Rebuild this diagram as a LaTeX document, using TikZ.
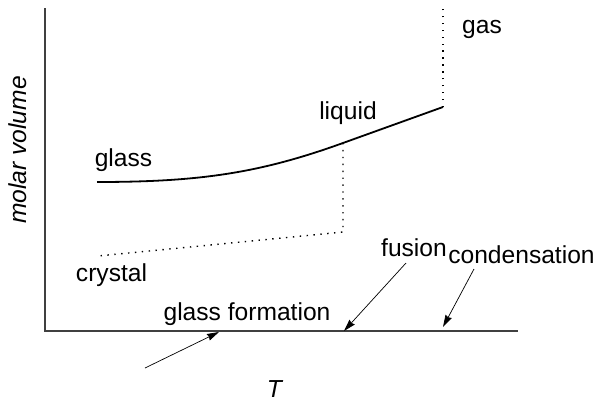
\documentclass[tikz,border=0pt]{standalone}
\usepackage{fontspec}
\setmainfont{Liberation Sans}
\usetikzlibrary{arrows.meta}
\begin{document}
\begin{tikzpicture}[x=1pt,y=-1pt,
  lbl/.style={anchor=base,inner sep=0pt,font=\fontsize{24.6}{28}\selectfont},
  axisline/.style={line width=1.2pt,black!75},
  curve/.style={line width=1.8pt,black},
  dotline/.style={line width=1.4pt,dash pattern=on 1.4pt off 5.5pt},
  ptr/.style={line width=0.7pt,-{Stealth[length=12pt,width=7pt,inset=1pt]}}]
\useasboundingbox (0,0) rectangle (597,402);
% axes
\coordinate (top) at (45,8);
\coordinate (org) at (45,331);
\coordinate (xend) at (518,331);
\draw[axisline] (top) -- (org) -- (xend);
% curves
\coordinate (g0) at (97,182);
\coordinate (lq) at (343,143);
\coordinate (lend) at (443,107);
\coordinate (gastop) at (443,8);
\coordinate (cr1) at (343,232);
\coordinate (cr0) at (98,256);
\draw[curve] (g0) .. controls (200,182) and (260,173) .. (lq) -- (lend);
\draw[dotline] (lend) -- (gastop);
\draw[dotline] (lq) -- (cr1) -- (cr0);
% labels
\node[lbl] (glass) at (123.5,166) {glass};
\node[lbl] (liquid) at (348,119) {liquid};
\node[lbl] (gas) at (482,33) {gas};
\node[lbl] (crystal) at (111.5,281) {crystal};
\node[lbl] (gf) at (247,320) {glass formation};
\node[lbl] (fusion) at (414,256) {fusion};
\node[lbl] (cond) at (521.5,263) {condensation};
\node[lbl,font=\fontsize{24.6}{28}\selectfont\itshape] (T) at (274.5,397) {T};
\node[lbl,font=\fontsize{24.6}{28}\selectfont\itshape,rotate=90] (mv) at (26,150) {molar volume};
% arrows
\coordinate (a1s) at (145,368);
\coordinate (a1e) at (219,332);
\coordinate (a2s) at (406,263);
\coordinate (a2e) at (344,331);
\coordinate (a3s) at (474,269);
\coordinate (a3e) at (443,327);
\draw[ptr] (a1s) -- (a1e);
\draw[ptr] (a2s) -- (a2e);
\draw[ptr] (a3s) -- (a3e);
\end{tikzpicture}
\end{document}
